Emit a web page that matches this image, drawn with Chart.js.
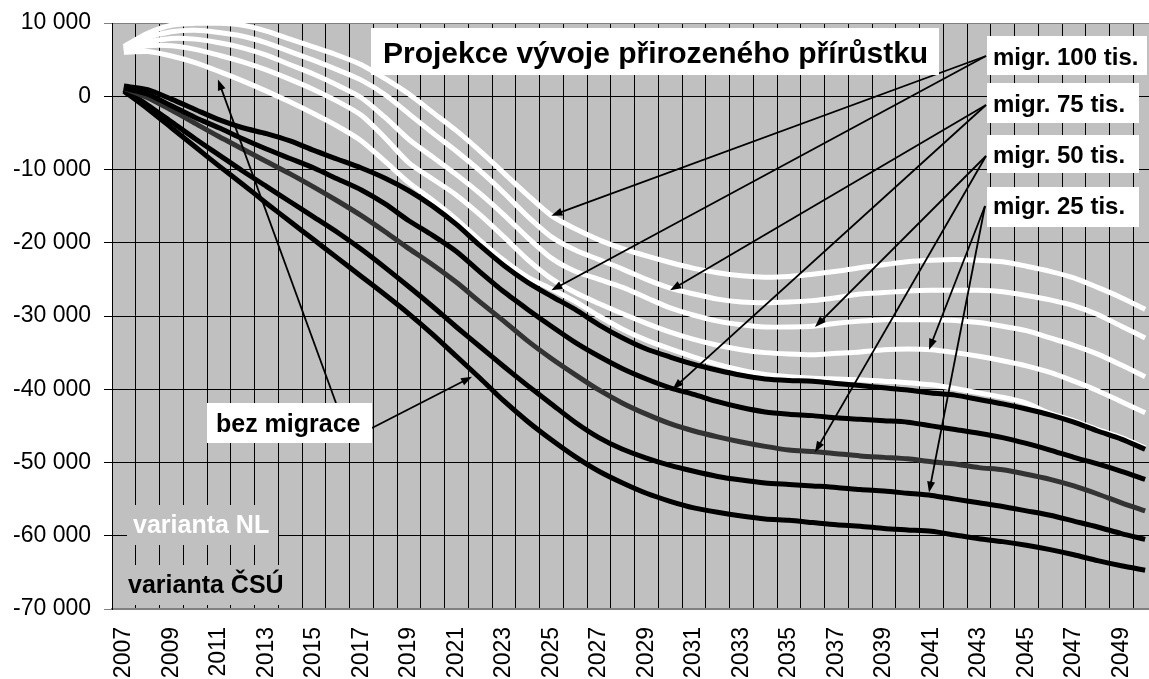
<!DOCTYPE html>
<html>
<head>
<meta charset="utf-8">
<script src="https://cdn.jsdelivr.net/npm/chart.js@4.4.1/dist/chart.umd.min.js"></script>
<style>
  html, body { margin: 0; padding: 0; background: #fff; overflow: hidden; }
  /* plot runs a little past the right edge, like the original picture */
  #wrap { position: absolute; left: 0; top: 0; width: 1170px; height: 679px; }
</style>
</head>
<body>
<div id="wrap"><canvas id="chart"></canvas></div>
<script>
// --- 1. DATA ---
const years = ['2007','2008','2009','2010','2011','2012','2013','2014','2015','2016','2017','2018','2019','2020','2021',
    '2022','2023','2024','2025','2026','2027','2028','2029','2030','2031','2032','2033','2034','2035','2036','2037',
    '2038','2039','2040','2041','2042','2043','2044','2045','2046','2047','2048','2049','2050'];
const shownYears = ['2007','2009','2011','2013','2015','2017','2019','2021','2023','2025','2027','2029','2031','2033',
    '2035','2037','2039','2041','2043','2045','2047','2049'];
const yTicks = [10000, 0, -10000, -20000, -30000, -40000, -50000, -60000, -70000];

// varianta NL (white lines)
const nl100 = [6800, 8600, 9700, 9950, 9950, 9700, 8900, 7800, 6700, 5600, 4300, 2400, 300,
    -2200, -4700, -7500, -10500, -13500, -16300, -18100, -19600, -20800, -21800, -22700, -23500, -24100, -24500, -24700,
    -24600, -24300, -23900, -23400, -23000, -22600, -22400, -22300, -22400, -22600, -23200, -23900, -24800, -26100, -27500, -29100];
const nl75 = [6600, 8000, 8800, 9000, 8700, 8200, 7300, 6100, 4900, 3600, 2200, 200, -2400,
    -5000, -7500, -10200, -13200, -16400, -19200, -21000, -22300, -23600, -25000, -26200, -27000, -27700, -28100, -28200,
    -28100, -27900, -27500, -27000, -26800, -26600, -26500, -26500, -26500, -26700, -27200, -27800, -28600, -29800, -31400, -33000];
const nl50 = [6400, 7400, 7900, 7800, 7300, 6600, 5600, 4300, 3000, 1500, -200, -2900, -5900,
    -8300, -10700, -13300, -16200, -19300, -22100, -23900, -25000, -26100, -27500, -28900, -29900, -30700, -31200, -31500,
    -31500, -31400, -31000, -30700, -30500, -30500, -30500, -30600, -30900, -31400, -32000, -33000, -34000, -35200, -36700, -38300];
const nl25 = [6200, 6900, 6900, 6400, 5600, 4700, 3600, 2300, 900, -700, -2600, -5700, -9100,
    -11300, -13500, -16200, -19200, -22300, -24900, -26800, -28300, -29700, -31000, -32200, -33200, -34000, -34600, -35000,
    -35200, -35300, -35100, -34900, -34600, -34500, -34600, -35000, -35500, -36100, -36800, -37700, -38900, -40200, -41700, -43200];
const nl0 = [6000, 6100, 5500, 4600, 3400, 2100, 700, -800, -2400, -4100, -6100, -8900, -11800,
    -14200, -16800, -19700, -22400, -24700, -26300, -28000, -30000, -31800, -33300, -34500, -35600, -36600, -37400, -38000,
    -38300, -38500, -38600, -38700, -38900, -39100, -39400, -39900, -40500, -41100, -41900, -43300, -44300, -45500, -46600, -48000];

// varianta ČSÚ (black lines, 50 tis. in dark grey)
const csu100 = [1400, 900, -400, -1800, -3200, -4300, -5100, -6100, -7400, -8600, -9800, -11200, -12900,
    -15000, -17500, -20400, -23100, -25400, -27300, -29100, -31200, -33000, -34500, -35600, -36600, -37400, -38100, -38600,
    -38800, -38900, -39200, -39500, -39800, -40100, -40500, -40800, -41400, -42000, -42700, -43500, -44500, -45700, -46800, -48200];
const csu75 = [1100, 300, -1300, -2900, -4300, -5800, -7200, -8500, -9800, -11300, -12800, -14700, -17000,
    -19000, -21200, -24000, -26700, -29100, -31400, -33600, -35500, -37200, -38600, -39800, -40700, -41700, -42500, -43100,
    -43400, -43600, -43900, -44100, -44300, -44500, -45000, -45500, -46000, -46600, -47400, -48300, -49300, -50200, -51200, -52300];
const csu50 = [1100, -200, -1900, -3700, -5500, -7200, -8900, -10600, -12400, -14300, -16300, -18500, -20800,
    -23000, -25400, -28100, -30700, -33400, -35800, -38000, -40100, -41900, -43400, -44700, -45700, -46500, -47200, -47800,
    -48300, -48500, -48800, -49100, -49300, -49500, -49900, -50200, -50700, -51000, -51600, -52300, -53200, -54300, -55500, -56600];
const csu25 = [900, -1200, -3500, -5800, -8000, -10200, -12300, -14400, -16500, -18600, -20900, -23400, -26000,
    -28700, -31500, -34200, -36900, -39500, -42000, -44500, -46600, -48200, -49400, -50400, -51200, -51900, -52400, -52800,
    -53000, -53200, -53400, -53700, -53900, -54200, -54500, -55000, -55500, -56000, -56600, -57200, -58000, -58800, -59700, -60500];
const csu0 = [700, -1700, -4300, -6900, -9500, -12000, -14600, -17100, -19600, -22100, -24600, -27100, -29700,
    -32500, -35500, -38500, -41600, -44400, -46900, -49200, -51200, -52800, -54200, -55300, -56200, -56800, -57300, -57700,
    -57900, -58200, -58500, -58700, -59000, -59200, -59400, -59900, -60400, -60800, -61300, -61900, -62600, -63400, -64100, -64700];

// --- 2. ANNOTATIONS (boxes in page pixels, arrow tips in [year index, value]) ---
const FONT = "'Liberation Sans', Arial, sans-serif";
const boxes = [
    { text: 'Projekce vývoje přirozeného přírůstku', x: 371, y: 28, w: 568, h: 47, tx: 383, ty: 63, size: 30, color: '#000', bg: '#fff' },
    { text: 'migr. 100 tis.', x: 987, y: 36, w: 160, h: 39, tx: 993, ty: 65, size: 24, color: '#000', bg: '#fff' },
    { text: 'migr. 75 tis.', x: 987, y: 83, w: 152, h: 40, tx: 993, ty: 112, size: 24, color: '#000', bg: '#fff' },
    { text: 'migr. 50 tis.', x: 987, y: 135, w: 152, h: 38, tx: 993, ty: 163, size: 24, color: '#000', bg: '#fff' },
    { text: 'migr. 25 tis.', x: 987, y: 187, w: 152, h: 40, tx: 993, ty: 214, size: 24, color: '#000', bg: '#fff' },
    { text: 'bez migrace', x: 207, y: 403, w: 165, h: 40, tx: 216, ty: 432, size: 25, color: '#000', bg: '#fff' },
    { text: 'varianta NL', x: 127, y: 505, w: 151, h: 40, tx: 133, ty: 533, size: 25, color: '#fff', bg: '#c0c0c0' },
    { text: 'varianta ČSÚ', x: 124, y: 565, w: 164, h: 40, tx: 128, ty: 593, size: 25, color: '#000', bg: '#c0c0c0' }
];
const arrows = [
    { from: [986, 56], to: [18, -16300] },
    { from: [986, 56], to: [18, -26500] },
    { from: [986, 105], to: [23, -26500] },
    { from: [986, 105], to: [23.1, -40000] },
    { from: [986, 156], to: [29.1, -31500] },
    { from: [986, 156], to: [29.1, -48600] },
    { from: [985, 206], to: [33.9, -34600] },
    { from: [985, 206], to: [33.9, -54100] },
    { from: [336, 403], to: [3.96, 2300] },
    { from: [372, 428], to: [14.66, -38300] }
];

function fmt(v) {
    const s = String(Math.abs(v)).replace(/\B(?=(\d{3})+(?!\d))/g, ' ');
    return v < 0 ? '-' + s : s;
}

function drawArrow(ctx, x0, y0, x1, y1) {
    const ang = Math.atan2(y1 - y0, x1 - x0);
    const len = 11, half = 4;
    const c = Math.cos(ang), s = Math.sin(ang);
    ctx.beginPath();
    ctx.moveTo(x0, y0);
    ctx.lineTo(x1 - c * len * 0.8, y1 - s * len * 0.8);
    ctx.stroke();
    ctx.beginPath();
    ctx.moveTo(x1, y1);
    ctx.lineTo(x1 - len * c + half * s, y1 - len * s - half * c);
    ctx.lineTo(x1 - len * c - half * s, y1 - len * s + half * c);
    ctx.closePath();
    ctx.fill();
}

const notesPlugin = {
    id: 'notes',
    beforeDraw(chart) {
        const { ctx, chartArea: a } = chart;
        ctx.save();
        ctx.fillStyle = '#c0c0c0';
        ctx.fillRect(a.left, a.top, a.right - a.left, a.bottom - a.top);
        ctx.restore();
    },
    afterDatasetsDraw(chart) {
        const { ctx, scales: { x, y } } = chart;
        ctx.save();
        ctx.strokeStyle = '#000';
        ctx.fillStyle = '#000';
        ctx.lineWidth = 1.8;
        arrows.forEach(ar => {
            drawArrow(ctx, ar.from[0], ar.from[1], x.getPixelForValue(ar.to[0]), y.getPixelForValue(ar.to[1]));
        });
        boxes.forEach(b => {
            ctx.fillStyle = b.bg;
            ctx.fillRect(b.x, b.y, b.w, b.h);
            ctx.fillStyle = b.color;
            ctx.font = 'bold ' + b.size + 'px ' + FONT;
            ctx.textAlign = 'left';
            ctx.textBaseline = 'alphabetic';
            ctx.fillText(b.text, b.tx, b.ty);
        });
        ctx.restore();
    }
};

// --- 3. CHART ---
const line = (label, data, color, order) => ({
    label, data, borderColor: color, borderWidth: 5, order, fill: false
});

new Chart(document.getElementById('chart'), {
    type: 'line',
    data: {
        labels: years,
        datasets: [
            line('NL migr. 100 tis.', nl100, '#ffffff', 2),
            line('NL migr. 75 tis.', nl75, '#ffffff', 2),
            line('NL migr. 50 tis.', nl50, '#ffffff', 2),
            line('NL migr. 25 tis.', nl25, '#ffffff', 2),
            line('NL bez migrace', nl0, '#ffffff', 2),
            line('ČSÚ migr. 100 tis.', csu100, '#000000', 1),
            line('ČSÚ migr. 75 tis.', csu75, '#000000', 1),
            line('ČSÚ migr. 50 tis.', csu50, '#333333', 1),
            line('ČSÚ migr. 25 tis.', csu25, '#000000', 1),
            line('ČSÚ bez migrace', csu0, '#000000', 1)
        ]
    },
    options: {
        responsive: true,
        maintainAspectRatio: false,
        animation: false,
        layout: { padding: { top: 23, right: 13, bottom: 0, left: 0 } },
        elements: { point: { radius: 0 }, line: { tension: 0.25 } },
        plugins: { legend: { display: false }, tooltip: { enabled: false } },
        scales: {
            x: {
                offset: true,
                grid: { offset: true, color: '#000', lineWidth: 1, drawTicks: false },
                border: { color: '#808080', width: 2 },
                ticks: {
                    autoSkip: false, minRotation: 90, maxRotation: 90, padding: 18, color: '#000',
                    font: { family: FONT, size: 23 },
                    callback: (v, i) => shownYears.includes(years[i]) ? years[i] : ''
                },
                afterFit: s => { s.height = 70; s.paddingLeft = 0; s.paddingRight = 0; }
            },
            y: {
                min: -70000, max: 10000,
                afterBuildTicks: s => { s.ticks = yTicks.map(v => ({ value: v })); },
                grid: {
                    color: c => (c.tick && (c.tick.value === 10000 || c.tick.value === -70000)) ? '#808080' : '#000',
                    lineWidth: 1, tickLength: 8
                },
                border: { color: '#000', width: 1 },
                ticks: { padding: 13, color: '#000', font: { family: FONT, size: 23 }, callback: v => fmt(v) },
                afterFit: s => { s.width = 112; s.paddingTop = 0; s.paddingBottom = 0; }
            }
        }
    },
    plugins: [notesPlugin]
});
</script>
</body>
</html>
